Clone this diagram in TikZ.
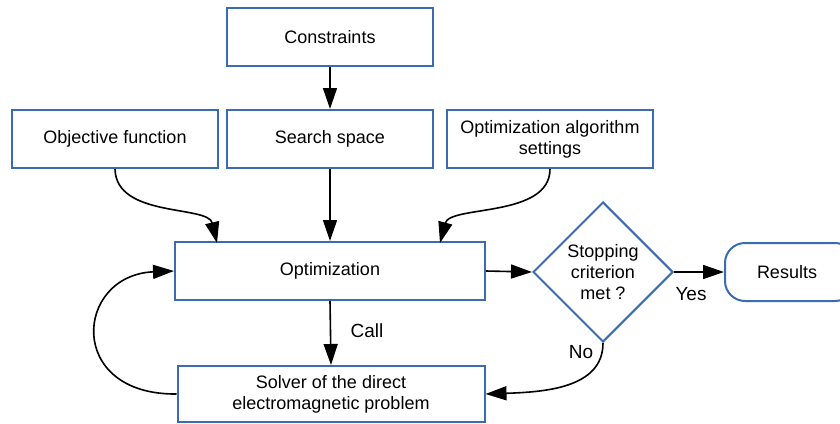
\documentclass[tikz,border=0pt]{standalone}
\usepackage{fontspec}
\setmainfont{Liberation Sans}
\usetikzlibrary{shapes.geometric,arrows.meta}
\definecolor{boxblue}{HTML}{3B6BB0}
\tikzset{
  box/.style={draw=boxblue, line width=2pt, rectangle, align=center, inner sep=0pt,
    font=\fontsize{18}{21}\selectfont},
  conn/.style={draw=black, line width=1.6pt, -{Triangle[length=21pt,width=14pt]}},
  lbl/.style={font=\fontsize{19}{22}\selectfont, inner sep=0pt}
}
\begin{document}
\begin{tikzpicture}[x=1pt,y=-1pt]
\useasboundingbox (0,0) rectangle (840,423);
\node[box, minimum width=206, minimum height=58] (cons) at (330,37) {Constraints};
\node[box, minimum width=206, minimum height=58] (obj) at (115,139) {Objective function};
\node[box, minimum width=206, minimum height=58] (ss) at (330,139) {Search space};
\node[box, minimum width=206, minimum height=58] (oas) at (550,139) {Optimization algorithm\\settings};
\node[box, minimum width=310, minimum height=58] (opt) at (330,271) {Optimization};
\node[box, shape=diamond, minimum width=140, minimum height=140, inner sep=-6pt] (stop) at (603,272) {Stopping\\criterion\\met ?};
\node[box, minimum width=130, minimum height=58, rounded corners=20pt] (res) at (790,272) {\hspace*{-6pt}Results};
\node[box, minimum width=307, minimum height=56] (solv) at (331,394) {Solver of the direct\\electromagnetic problem};

\draw[conn] (cons.south) -- (ss.north);
\draw[conn] (ss.south) -- (opt.north);
\draw[conn] (obj.south) .. controls (116,218) and (208,205) .. (217,243);
\draw[conn] (oas.south) .. controls (550,218) and (450,205) .. (440,243);
\draw[conn] (opt.east) -- (stop.west);
\draw[conn] (stop.east) -- (res.west);
\draw[conn] (opt.south) -- (solv.north);
\draw[conn] (stop.south) .. controls (603,388) and (545,392) .. (solv.east);
\draw[conn] (solv.west) .. controls (65,395) and (75,275) .. (opt.west);

\node[lbl] (call) at (367,331) {Call};
\node[lbl] (yes) at (691,294) {Yes};
\node[lbl] (no) at (581,352) {No};
\end{tikzpicture}
\end{document}
